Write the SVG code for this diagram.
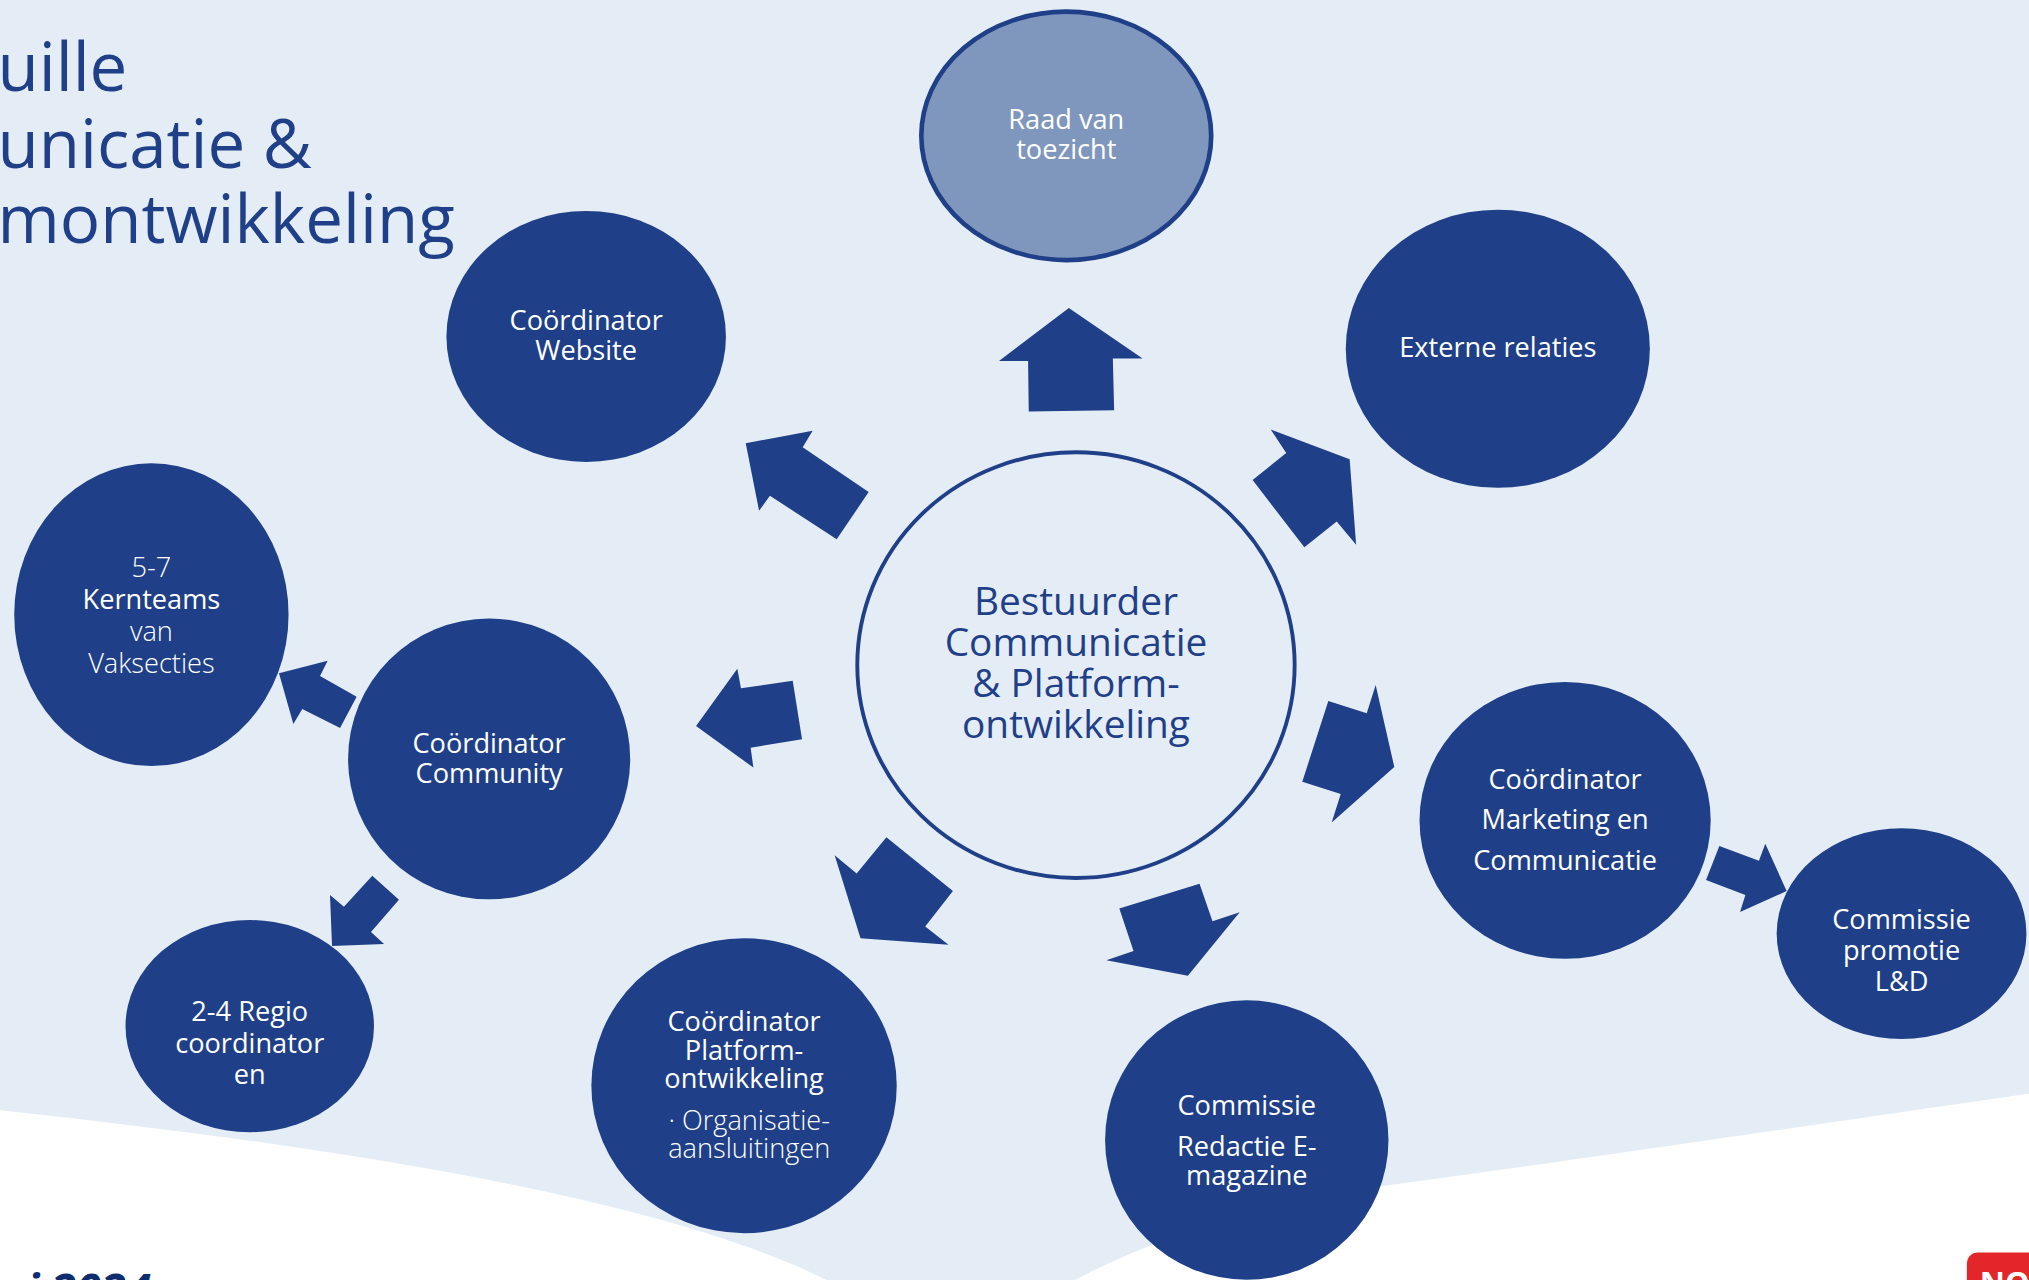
<svg xmlns="http://www.w3.org/2000/svg" width="2029" height="1280" viewBox="0 0 2029 1280">
<style>
.n{fill:#1F4088}
.t{fill:#ffffff;font-family:'Open Sans','Noto Sans',sans-serif;font-size:21px;text-anchor:middle}
.l{font-weight:300}
.c{fill:#1F4088;font-size:30px}
.a{fill:#1F4088}
.title{fill:#1F4088;font-family:'Open Sans','Noto Sans',sans-serif;font-size:52px}
</style>
<rect x="0" y="0" width="2029" height="1280" fill="#E4ECF5"/>
<g transform="scale(1.29401)">
<path d="M0,858 C250,885 520,925 650,995 L820,995 C900,950 1000,925 1080,915 C1250,892 1450,862 1570,845 L1570,995 L0,995 Z" fill="#ffffff"/>
<g id="title">
<text class="title" x="-2" y="70">uille</text>
<text class="title" x="-2" y="130">unicatie &amp;</text>
<text class="title" x="-2" y="188">montwikkeling</text>
</g>
<g id="connectors">
<polygon class="a" points="826,238 772,279 794.5,279 795,318 861,317 860,277 883,277"/>
<polygon class="a" points="576.3,342.6 628,332.8 620.3,345.7 671.3,380.2 646.6,416.8 595,383.1 586.6,394.7"/>
<polygon class="a" points="982,332 994,350 968,371 1008,423 1033,403 1048,421 1043,355"/>
<polygon class="a" points="537.9,561 569.8,516.8 572.6,531.9 612.6,526 619.8,571.3 580.1,577.8 582.2,593.2"/>
<polygon class="a" points="645,661 662,675 685,647 736.4,688.6 715,716 733,730 665,725"/>
<polygon class="a" points="865,702 927,683 937,712 958,705 918,754 855,742 876,735"/>
<polygon class="a" points="1026.5,541.7 1056.2,551.2 1063.1,529.4 1077.5,592.7 1029.1,635.7 1036.1,613.6 1006.4,604.1"/>
<polygon class="a" points="1328.7,653.8 1359.3,665.1 1364.2,652 1380.7,688.6 1344.7,704.8 1348.8,691.6 1318.4,680.1"/>
<polygon class="a" points="215.6,520.3 253.2,510.6 247.3,522.4 275.6,538.4 262.8,562.6 233.6,547.9 226.7,559.5"/>
<polygon class="a" points="287.7,676.7 308.3,695.3 286.7,720.2 296.8,729.5 256.6,731.1 255,691.7 265.8,700.7"/>
</g>
<g id="raad">
<ellipse cx="824" cy="105" rx="112" ry="96" fill="#8097BD" stroke="#1F4088" stroke-width="3.6"/>
<text class="t" x="824" y="100">Raad van</text>
<text class="t" x="824" y="123">toezicht</text>
</g>
<g id="website">
<ellipse class="n" cx="453" cy="260" rx="108" ry="97"/>
<text class="t" x="453" y="255">Coördinator</text>
<text class="t" x="453" y="278">Website</text>
</g>
<g id="extern">
<ellipse class="n" cx="1157.5" cy="269.5" rx="117.5" ry="107.5"/>
<text class="t" x="1157.5" y="276">Externe relaties</text>
</g>
<g id="bestuurder">
<ellipse cx="831.5" cy="514" rx="169" ry="164.5" fill="#E4ECF5" stroke="#1F4088" stroke-width="3"/>
<text class="t c" x="831.5" y="475">Bestuurder</text>
<text class="t c" x="831.5" y="507">Communicatie</text>
<text class="t c" x="831.5" y="539">&amp; Platform-</text>
<text class="t c" x="831.5" y="570">ontwikkeling</text>
</g>
<g id="kernteams">
<ellipse class="n" cx="117" cy="475" rx="106" ry="117"/>
<text class="t l" x="117" y="446">5-7</text>
<text class="t" x="117" y="471">Kernteams</text>
<text class="t l" x="117" y="495">van</text>
<text class="t l" x="117" y="520">Vaksecties</text>
</g>
<g id="community">
<ellipse class="n" cx="378" cy="586.5" rx="109" ry="108.5"/>
<text class="t" x="378" y="582">Coördinator</text>
<text class="t" x="378" y="605">Community</text>
</g>
<g id="regio">
<ellipse class="n" cx="193" cy="793" rx="96" ry="82"/>
<text class="t" x="193" y="789">2-4 Regio</text>
<text class="t" x="193" y="814">coordinator</text>
<text class="t" x="193" y="838">en</text>
</g>
<g id="platform">
<ellipse class="n" cx="575" cy="839" rx="118" ry="114"/>
<text class="t" x="575" y="797">Coördinator</text>
<text class="t" x="575" y="819">Platform-</text>
<text class="t" x="575" y="841">ontwikkeling</text>
<text class="t l" x="579" y="873">· Organisatie-</text>
<text class="t l" x="579" y="895">aansluitingen</text>
</g>
<g id="redactie">
<ellipse class="n" cx="963.5" cy="881" rx="109.5" ry="108"/>
<text class="t" x="963.5" y="862">Commissie</text>
<text class="t" x="963.5" y="893">Redactie E-</text>
<text class="t" x="963.5" y="916">magazine</text>
</g>
<g id="marketing">
<ellipse class="n" cx="1209.5" cy="634" rx="112.5" ry="107"/>
<text class="t" x="1209.5" y="610">Coördinator</text>
<text class="t" x="1209.5" y="641">Marketing en</text>
<text class="t" x="1209.5" y="672">Communicatie</text>
</g>
<g id="promotie">
<ellipse class="n" cx="1469.5" cy="721.5" rx="96.5" ry="81.5"/>
<text class="t" x="1469.5" y="718">Commissie</text>
<text class="t" x="1469.5" y="742">promotie</text>
<text class="t" x="1469.5" y="766">L&amp;D</text>
</g>
<g id="footer">
<text x="20" y="1009" fill="#0E2D6E" font-family="'Open Sans','Noto Sans',sans-serif" font-size="35" font-weight="bold" font-style="italic">i 2024</text>
<rect x="1520" y="968" width="60" height="40" rx="8" fill="#E3262A"/>
<text x="1530" y="1000" fill="#ffffff" font-family="'Open Sans','Noto Sans',sans-serif" font-size="24" font-weight="bold">NO</text>
</g>
</g>
</svg>
